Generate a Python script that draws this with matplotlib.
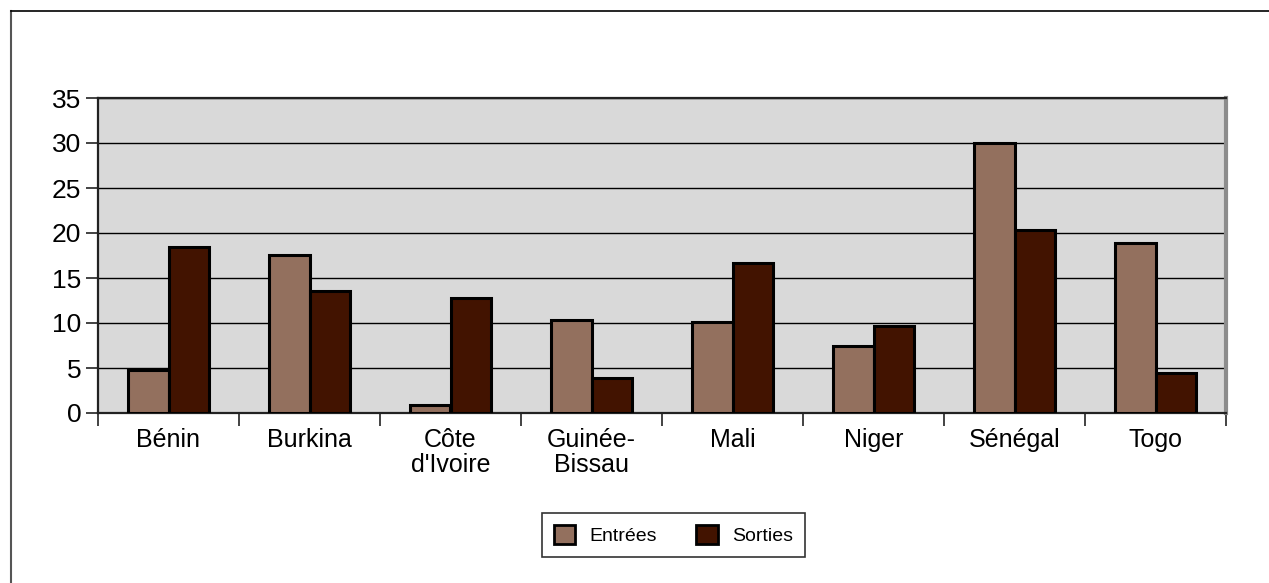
import matplotlib
matplotlib.use("Agg")
import matplotlib.pyplot as plt
from matplotlib.lines import Line2D
from matplotlib.patches import Patch
import numpy as np

plt.rcParams['font.family'] = ['Liberation Sans', 'DejaVu Sans']

countries = ["Bénin", "Burkina", "Côte\nd'Ivoire", "Guinée-\nBissau", "Mali", "Niger", "Sénégal", "Togo"]
entrees = [4.8, 17.6, 0.9, 10.3, 10.1, 7.4, 30.0, 18.9]
sorties = [18.4, 13.6, 12.8, 3.9, 16.7, 9.7, 20.3, 4.4]
series_names = ["Entrées", "Sorties"]
y_ticks = [0, 5, 10, 15, 20, 25, 30, 35]

c_in = "#93705E"
c_out = "#421300"

W, H = 1269, 583
fig = plt.figure(figsize=(W / 100, H / 100), dpi=100)
ax = fig.add_axes([98 / W, 1 - 413 / H, (1226 - 98) / W, (413 - 98) / H])
ax.set_facecolor("#D9D9D9")

x = np.arange(len(countries))
bw = 0.285
ax.bar(x - bw / 2, entrees, bw, color=c_in, edgecolor="black", linewidth=2.2, zorder=3)
ax.bar(x + bw / 2, sorties, bw, color=c_out, edgecolor="black", linewidth=2.2, zorder=3)

ax.set_xlim(-0.5, len(countries) - 0.5)
ax.set_ylim(0, 35)
ax.set_yticks(y_ticks)
ax.set_yticklabels([str(v) for v in y_ticks], fontsize=19)
ax.yaxis.grid(True, color="black", linewidth=1.0, zorder=1)
ax.set_axisbelow(True)

# category labels centered, ticks on group boundaries
ax.set_xticks(x)
ax.set_xticklabels(countries, fontsize=18, linespacing=1.05)
ax.tick_params(axis="x", length=0, pad=11)
ax.set_xticks(np.arange(-0.5, len(countries)), minor=True)
ax.tick_params(axis="x", which="minor", length=9, width=1.2, color="#222222", direction="out")
ax.tick_params(axis="y", length=9, width=1.2, color="#222222", direction="out", pad=3)

for side in ["left", "bottom"]:
    ax.spines[side].set_color("#222222")
    ax.spines[side].set_linewidth(1.6)
ax.spines["top"].set_color("#222222")
ax.spines["top"].set_linewidth(1.6)
ax.spines["right"].set_color("#8C8C8C")
ax.spines["right"].set_linewidth(3)

# legend
handles = [Patch(facecolor=c_in, edgecolor="black", linewidth=2),
           Patch(facecolor=c_out, edgecolor="black", linewidth=2)]
leg = fig.legend(handles, series_names, loc="center",
                 bbox_to_anchor=(673.5 / W, 1 - 535 / H), ncol=2,
                 fontsize=14, frameon=True, fancybox=False, edgecolor="black",
                 handlelength=1.1, handleheight=1.1, columnspacing=2.0,
                 handletextpad=0.75, borderpad=0.6, borderaxespad=0)
leg.get_frame().set_linewidth(1.2)

# outer frame of the chart area
fig.add_artist(Line2D([11 / W, 11 / W], [0, 1 - 11 / H], transform=fig.transFigure,
                      color="#555555", linewidth=1.5))
fig.add_artist(Line2D([11 / W, 1], [1 - 11 / H, 1 - 11 / H], transform=fig.transFigure,
                      color="black", linewidth=1.2))

fig.savefig("out.png", dpi=100)
